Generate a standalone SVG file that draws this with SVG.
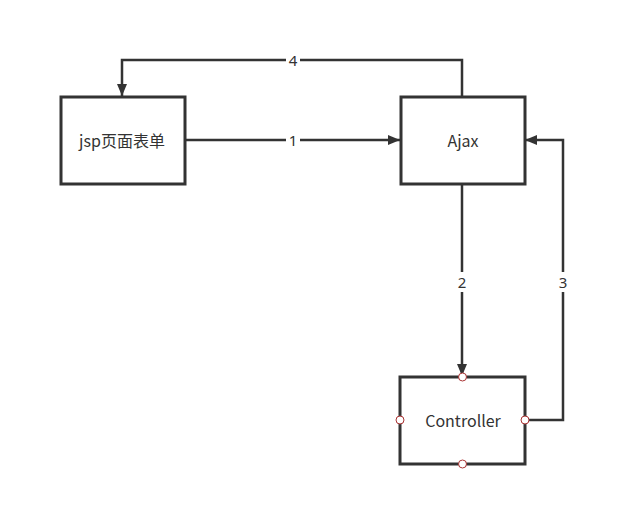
<svg xmlns="http://www.w3.org/2000/svg" width="621" height="529" viewBox="0 0 621 529">
<defs>
<marker id="arr" viewBox="0 0 12 10" refX="12" refY="5" markerWidth="12" markerHeight="10" markerUnits="userSpaceOnUse" orient="auto">
<path d="M0,0 L12,5 L0,10 Z" fill="#333"/>
</marker>
</defs>
<style>
.box{fill:#fff;stroke:#333;stroke-width:3}
.line{fill:none;stroke:#333;stroke-width:2.5}
.t{font-family:"Noto Sans CJK SC","Noto Sans",sans-serif;font-size:16px;fill:#333;text-anchor:middle;dominant-baseline:central}
.lbl{font-family:"Noto Sans","Noto Sans CJK SC",sans-serif;font-size:15px;fill:#333;text-anchor:middle;dominant-baseline:central}
.lb{fill:#fff}
.pt{fill:#fff;stroke:#a33;stroke-width:1}
</style>
<rect width="621" height="529" fill="#fff"/>
<g id="connectors">
<path class="line" d="M462,96 V60 H122 V96" marker-end="url(#arr)"/>
<path class="line" d="M185,140 H400" marker-end="url(#arr)"/>
<path class="line" d="M462,184 V376" marker-end="url(#arr)"/>
<path class="line" d="M525,420 H563 V140 H525" marker-end="url(#arr)"/>
<rect class="lb" x="286" y="50" width="14" height="20"/>
<text class="lbl" x="293" y="60">4</text>
<rect class="lb" x="286" y="130" width="14" height="20"/>
<text class="lbl" x="293" y="140">1</text>
<rect class="lb" x="455" y="272" width="14" height="20"/>
<text class="lbl" x="462" y="282">2</text>
<rect class="lb" x="556" y="272" width="14" height="20"/>
<text class="lbl" x="563" y="282">3</text>
</g>
<g id="jsp">
<rect class="box" x="61" y="97" width="124" height="87"/>
<text class="t" x="122" y="140">jsp页面表单</text>
</g>
<g id="ajax">
<rect class="box" x="401" y="97" width="124" height="87"/>
<text class="t" x="463" y="140">Ajax</text>
</g>
<g id="controller">
<rect class="box" x="400" y="377" width="125" height="87"/>
<text class="t" x="463" y="420">Controller</text>
<circle class="pt" cx="462.5" cy="377" r="4"/>
<circle class="pt" cx="400" cy="420" r="4"/>
<circle class="pt" cx="525" cy="420" r="4"/>
<circle class="pt" cx="462.5" cy="464" r="4"/>
</g>
</svg>
